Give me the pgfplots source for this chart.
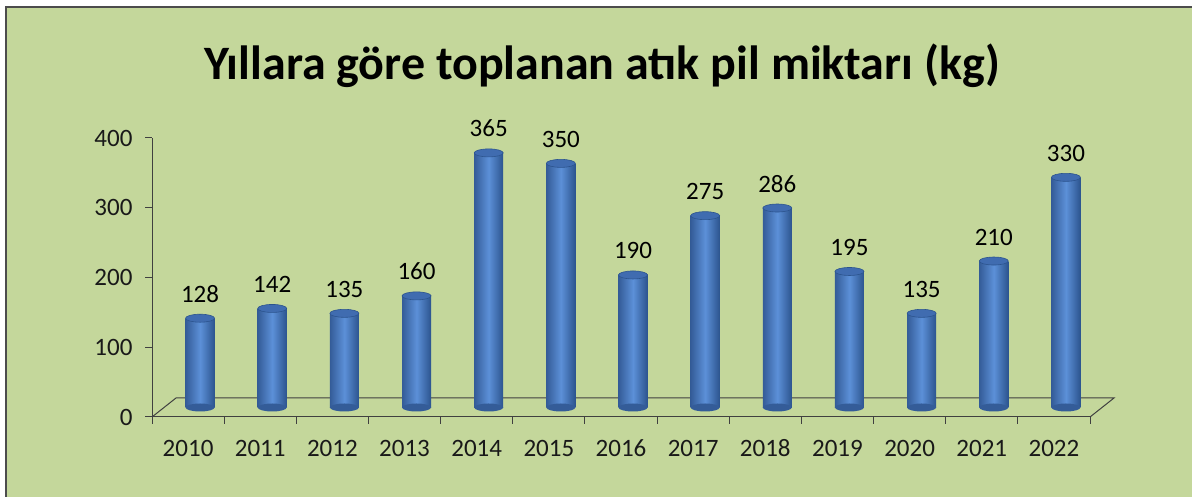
\documentclass[border=0pt]{standalone}
\usepackage{fontspec}
\setmainfont{Carlito}
\usepackage{pgfplots}
\usepackage{pgfplotstable}
\pgfplotsset{compat=1.18}
\definecolor{bg}{RGB}{196,215,155}
\definecolor{bl}{RGB}{52,92,152}
\definecolor{bm}{RGB}{92,144,216}
\definecolor{br}{RGB}{44,84,142}
\definecolor{bt}{RGB}{64,108,176}
\pgfdeclareplotmark{cyltop}{\pgfpathellipse{\pgfpointorigin}{\pgfqpoint{14.5pt}{0pt}}{\pgfqpoint{0pt}{4pt}}\pgfusepathqfillstroke}
\pgfdeclareplotmark{cylbot}{\pgfpathellipse{\pgfpointorigin}{\pgfqpoint{14.5pt}{0pt}}{\pgfqpoint{0pt}{4pt}}\pgfusepathqfill}
\pgfplotstableread{
x y base
0 128 0
1 142 0
2 135 0
3 160 0
4 365 0
5 350 0
6 190 0
7 275 0
8 286 0
9 195 0
10 135 0
11 210 0
12 330 0
}\data
\begin{document}
\begin{tikzpicture}[x=1pt,y=1pt]
\useasboundingbox (0,0) rectangle (1192,497);
\fill[white] (0,0) rectangle (1192,497);
\filldraw[fill=bg, draw=black!70, line width=1.2pt] (6,-10) rectangle (1200,490);
\node[font=\bfseries\fontsize{48}{56}\selectfont, anchor=base] at (602,417) {Yıllara göre toplanan atık pil miktarı (kg)};
\begin{axis}[scale only axis, width=938pt, height=279pt, at={(152pt,80pt)}, anchor=south west,
  xmin=-0.5, xmax=12.5, ymin=0, ymax=400,
  axis x line*=bottom, axis y line*=left,
  /pgf/number format/assume math mode=true,
  xtick={-0.5,0.5,...,12.5}, xticklabels={},
  extra x ticks={0,1,2,3,4,5,6,7,8,9,10,11,12},
  extra x tick labels={2010,2011,2012,2013,2014,2015,2016,2017,2018,2019,2020,2021,2022},
  extra x tick style={major tick length=0pt, xticklabel style={anchor=base, yshift=-40pt}},
  ytick={0,100,200,300,400},
  yticklabel style={xshift=-9pt},
  tick align=outside, major tick length=7pt,
  tick label style={font=\fontsize{25}{29}\selectfont, black!90},
  axis line style={black!75, line width=1pt}, tick style={black!75, line width=1pt},
  clip=false]
\draw[black!75, line width=1pt] (axis cs:-0.5,0) -- ++(24pt,19pt) -- ([shift={(24pt,19pt)}]axis cs:12.5,0) -- (axis cs:12.5,0);
\end{axis}
\begin{axis}[scale only axis, width=938pt, height=279pt, at={(164pt,89.5pt)}, anchor=south west,
  xmin=-0.5, xmax=12.5, ymin=0, ymax=400, hide axis, clip=false,
  /pgf/number format/assume math mode=true]
\addplot[only marks, mark=cylbot, mark options={fill=bl}] table[x=x,y=base]{\data};
\pgfplotsinvokeforeach{0,...,12}{
\addplot[ybar, bar width=29pt, bar shift=0pt, draw=none, left color=bl, right color=br, middle color=bm,
  restrict x to domain=#1:#1, forget plot] table[x=x,y=y]{\data};
}
\addplot[only marks, mark=cyltop, mark options={fill=bt, draw=br, line width=0.6pt},
  nodes near coords,
  every node near coord/.append style={font=\fontsize{25}{29}\selectfont, anchor=base, yshift=16pt, black}] table[x=x,y=y]{\data};
\end{axis}
\end{tikzpicture}
\end{document}
